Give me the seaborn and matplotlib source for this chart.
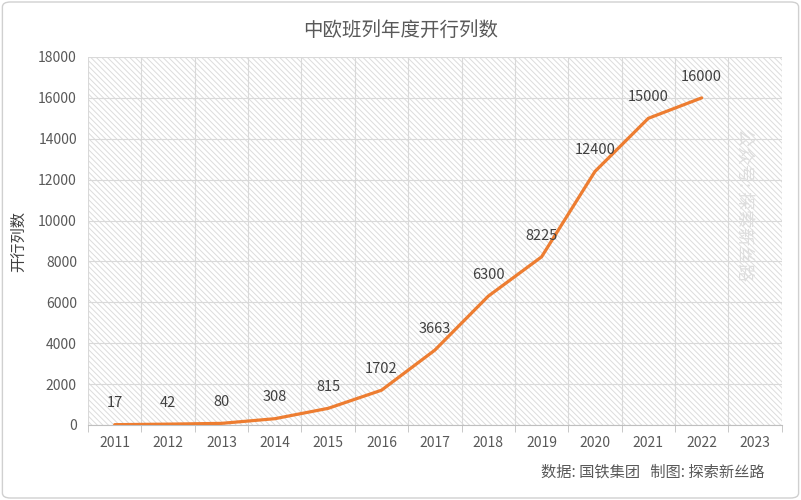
import matplotlib
matplotlib.use("Agg")
import matplotlib.pyplot as plt
import seaborn as sns
import pandas as pd
from matplotlib.patches import Rectangle, FancyBboxPatch

# Data
years = [2011, 2012, 2013, 2014, 2015, 2016, 2017, 2018, 2019, 2020, 2021, 2022]
trips = [17, 42, 80, 308, 815, 1702, 3663, 6300, 8225, 12400, 15000, 16000]
tick_years = list(range(2011, 2024))
y_ticks = list(range(0, 18001, 2000))

sns.set_style("white")
plt.rcParams["font.family"] = ["Noto Sans CJK SC", "DejaVu Sans"]
plt.rcParams["hatch.linewidth"] = 0.7
plt.rcParams["hatch.color"] = "#dcdcdc"

df = pd.DataFrame({"year": years, "trips": trips})

fig = plt.figure(figsize=(8.01, 5), dpi=100)
# outer border
fig.patches.append(FancyBboxPatch((0.003, 0.004), 0.994, 0.992, boxstyle="round,pad=0,rounding_size=0.01",
                                  transform=fig.transFigure, facecolor="white", edgecolor="#d0d0d0", lw=1,
                                  zorder=-10))
ax = fig.add_axes([0.1099, 0.15, 0.866, 0.736])
ax.patch.set_alpha(0)

# hatched plot area
ax.add_patch(Rectangle((0, 0), 1, 1, transform=ax.transAxes, facecolor="white",
                       edgecolor="#dcdcdc", hatch="\\" * 6, lw=0, zorder=0))

sns.lineplot(data=df, x="year", y="trips", ax=ax, color="#ED7D31", linewidth=2.3, zorder=3)

for x, y in zip(years, trips):
    ax.text(x, y + 700, str(y), ha="center", va="bottom", fontsize=10.5, color="#404040", zorder=4)

ax.set_xlim(2010.5, 2023.5)
ax.set_ylim(0, 18000)
ax.set_xticks(tick_years)
ax.set_xticks([y + 0.5 for y in range(2010, 2024)], minor=True)
ax.set_yticks(y_ticks)
ax.tick_params(axis="x", which="major", length=0, pad=8, labelsize=10, labelcolor="#595959")
ax.tick_params(axis="x", which="minor", length=5, color="#bfbfbf", bottom=True)
ax.tick_params(axis="y", length=0, pad=8, labelsize=10, labelcolor="#595959")
ax.grid(True, axis="x", which="minor", color="#d9d9d9", lw=0.8)
ax.grid(True, axis="y", which="major", color="#d9d9d9", lw=0.8)
ax.set_axisbelow(True)
for s in ["top", "right", "left"]:
    ax.spines[s].set_visible(False)
ax.spines["bottom"].set_color("#bfbfbf")
ax.set_xlabel("")
ax.set_ylabel("开行列数", fontsize=11, color="#404040", labelpad=8)

fig.text(0.5, 0.94, "中欧班列年度开行列数", ha="center", va="center", fontsize=14, color="#595959")
fig.text(0.955, 0.056, "数据: 国铁集团   制图: 探索新丝路", ha="right", va="center", fontsize=11, color="#595959")
ax.text(0.946, 0.6, "公众号: 探索新丝路", transform=ax.transAxes, rotation=270, ha="center", va="center",
        fontsize=13, color="#dedede", zorder=2)

fig.savefig("out.png", dpi=100)
